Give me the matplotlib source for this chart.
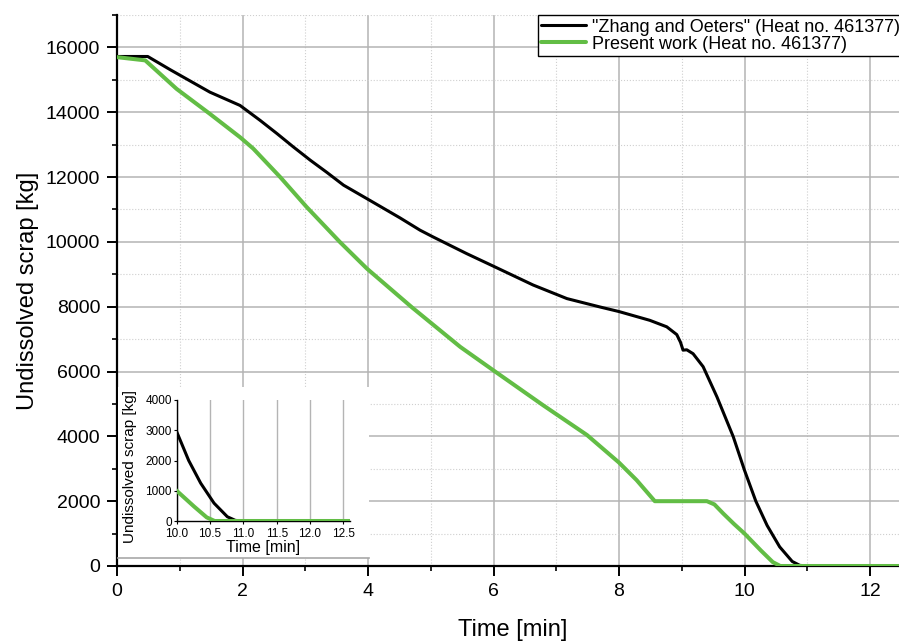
import numpy as np
import matplotlib.pyplot as plt
from matplotlib.ticker import MultipleLocator, FormatStrFormatter

plt.rcParams['font.family'] = ['Liberation Sans', 'DejaVu Sans']

# Undissolved scrap vs time, heat no. 461377
# "Zhang and Oeters" model
zo_time = [0.00, 0.49, 0.85, 1.48, 1.96, 2.28, 2.55, 2.81, 3.08, 3.34, 3.61,
           4.03, 4.51, 4.83, 5.04, 5.57, 6.02, 6.63, 7.17, 7.70, 8.00, 8.49,
           8.76, 8.92, 8.98, 9.02, 9.08, 9.18, 9.34, 9.56, 9.82, 10.00, 10.18,
           10.36, 10.56, 10.76, 10.88, 11.00, 12.60]
zo_scrap = [15720, 15720, 15310, 14620, 14210, 13750, 13340, 12930, 12520,
            12150, 11750, 11280, 10740, 10360, 10150, 9640, 9230, 8670, 8250,
            7990, 7850, 7580, 7380, 7140, 6900, 6660, 6670, 6550, 6150, 5220,
            3990, 2950, 2000, 1250, 590, 140, 20, 0, 0]

# present model
pw_time = [0.00, 0.45, 0.95, 1.48, 1.96, 2.17, 2.60, 3.02, 3.55, 3.98, 4.70,
           5.47, 6.01, 6.79, 7.49, 8.00, 8.28, 8.57, 9.40, 9.52, 9.66, 9.83,
           10.00, 10.26, 10.45, 10.57, 12.60]
pw_scrap = [15700, 15600, 14720, 13950, 13230, 12880, 12000, 11080, 10000,
            9180, 7980, 6760, 6020, 4960, 4040, 3190, 2650, 2000, 2000, 1900,
            1620, 1300, 1000, 480, 120, 0, 0]

label_zo = '"Zhang and Oeters" (Heat no. 461377)'
label_pw = 'Present work (Heat no. 461377)'

black = '#000000'
green = '#62bd45'
line_kw = dict(solid_joinstyle='round', solid_capstyle='round', zorder=3)

fig = plt.figure(figsize=(8.99, 6.41), dpi=100)

# main axes (runs a little past the right edge of the figure)
ax = fig.add_axes([117 / 899, 75 / 641, 790.7 / 899, 551 / 641])
ax.plot(zo_time, zo_scrap, color=black, lw=2.2, label=label_zo, **line_kw)
ax.plot(pw_time, pw_scrap, color=green, lw=2.9, label=label_pw, **line_kw)

ax.set_xlim(0, 12.6)
ax.set_ylim(0, 17000)
ax.xaxis.set_major_locator(MultipleLocator(2))
ax.xaxis.set_minor_locator(MultipleLocator(1))
ax.yaxis.set_major_locator(MultipleLocator(2000))
ax.yaxis.set_minor_locator(MultipleLocator(1000))

ax.grid(which='major', color='#b4b4b4', lw=1.1, ls='-')
ax.grid(which='minor', color='#cfcfcf', lw=0.8, ls=':')

for side in ['top', 'right']:
    ax.spines[side].set_visible(False)
for side in ['left', 'bottom']:
    ax.spines[side].set_linewidth(1.6)

ax.tick_params(which='major', direction='out', length=7, width=1.4,
               labelsize=14, pad=5)
ax.tick_params(which='minor', direction='out', length=3.5, width=1.2)

ax.set_xlabel('Time [min]', fontsize=17, labelpad=14)
ax.set_ylabel('Undissolved scrap [kg]', fontsize=17, labelpad=5)

leg = ax.legend(loc='upper left', bbox_to_anchor=(0.532, 1.0),
                borderaxespad=0, fontsize=13, handlelength=2.5,
                handletextpad=0.3, labelspacing=0.0, borderpad=0.2,
                fancybox=False, framealpha=1, edgecolor='black')
leg.get_frame().set_linewidth(1.0)

# white panel behind the inset
panel = fig.add_axes([118 / 899, (641 - 558) / 641, 251 / 899, 171 / 641],
                     zorder=1)
panel.set_facecolor('white')
panel.set_xticks([])
panel.set_yticks([])
for side in ['top', 'right', 'left']:
    panel.spines[side].set_visible(False)
panel.spines['bottom'].set_color('#a8a8a8')
panel.spines['bottom'].set_linewidth(1.2)

# inset: tail of the dissolution after 10 min
ins = fig.add_axes([176.7 / 899, 120 / 641, 173.3 / 899, 121 / 641], zorder=2)
ins.set_facecolor('none')
ins.plot(zo_time, zo_scrap, color=black, lw=2.2, **line_kw)
ins.plot(pw_time, pw_scrap, color=green, lw=2.9, **line_kw)
ins.set_xlim(10, 12.6)
ins.set_ylim(0, 4000)
ins.xaxis.set_major_locator(MultipleLocator(0.5))
ins.xaxis.set_major_formatter(FormatStrFormatter('%.1f'))
ins.yaxis.set_major_locator(MultipleLocator(1000))
ins.grid(axis='x', color='#b4b4b4', lw=1.0)
for side in ['top', 'right']:
    ins.spines[side].set_visible(False)
for side in ['left', 'bottom']:
    ins.spines[side].set_linewidth(1.0)
ins.tick_params(direction='out', length=2.5, width=0.8, labelsize=8.5)
ins.tick_params(axis='x', pad=2.5)
ins.tick_params(axis='y', pad=1)
ins.set_xlabel('Time [min]', fontsize=11.5, labelpad=0)
ins.set_ylabel('Undissolved scrap [kg]', fontsize=11, labelpad=0)
ins.yaxis.set_label_coords(-0.23, 0.45)

fig.savefig('out.png', dpi=100)
